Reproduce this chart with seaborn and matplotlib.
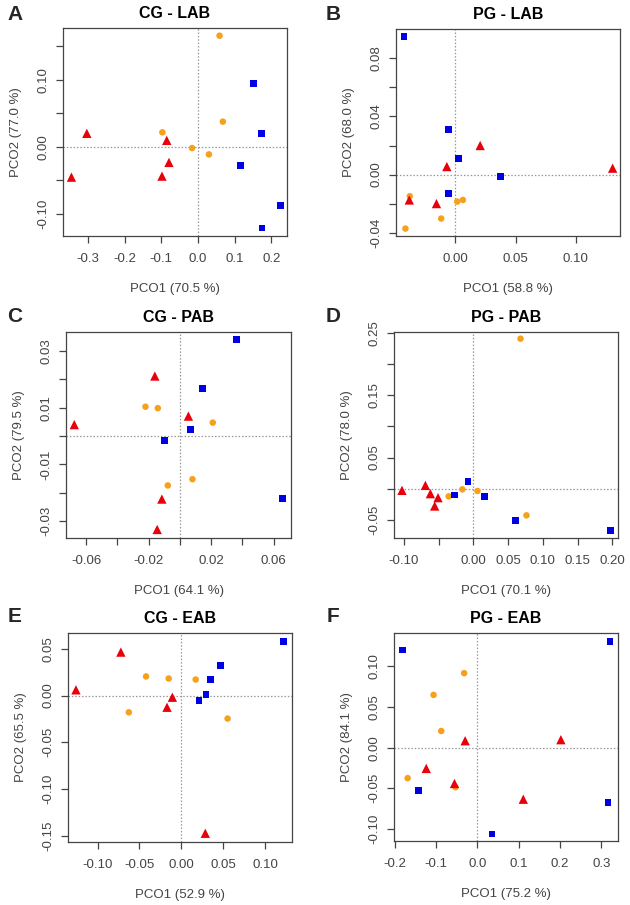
import numpy as np
import pandas as pd
import matplotlib
matplotlib.use("Agg")
import matplotlib.pyplot as plt
import seaborn as sns

sns.set_style("ticks")
plt.rcParams['font.family'] = ['Liberation Sans', 'DejaVu Sans']

# point coordinates (orange circles, red triangles, blue squares)
a_orange_x = [0.059, 0.068, -0.097, -0.016, 0.030]
a_orange_y = [0.166, 0.0375, 0.0215, -0.002, -0.0115]
a_red_x = [-0.303, -0.085, -0.079, -0.098, -0.345]
a_red_y = [0.020, 0.0095, -0.0235, -0.044, -0.0455]
a_blue_x = [0.152, 0.173, 0.117, 0.225, 0.175]
a_blue_y = [0.0945, 0.0195, -0.0275, -0.0875, -0.1215]

b_orange_x = [-0.0376, 0.0017, 0.0064, -0.0116, -0.0412]
b_orange_y = [-0.0149, -0.0186, -0.0175, -0.0303, -0.0372]
b_red_x = [0.0207, -0.0069, 0.1304, -0.038, -0.0155]
b_red_y = [0.020, 0.0055, 0.0044, -0.0175, -0.020]
b_blue_x = [-0.0423, -0.0055, 0.003, 0.0378, -0.0055]
b_blue_y = [0.0952, 0.0308, 0.011, -0.0011, -0.0129]

c_orange_x = [-0.022, -0.0141, 0.0211, 0.0081, -0.0077]
c_orange_y = [0.0103, 0.0098, 0.0047, -0.0152, -0.0174]
c_red_x = [-0.016, 0.0055, -0.0676, -0.0115, -0.0145]
c_red_y = [0.0211, 0.0070, 0.0040, -0.0222, -0.0329]
c_blue_x = [0.0362, 0.0143, 0.0070, -0.0098, 0.0659]
c_blue_y = [0.0340, 0.0168, 0.0023, -0.0015, -0.0219]

d_orange_x = [0.0678, -0.0159, 0.0058, -0.0356, 0.0764]
d_orange_y = [0.2406, -0.0011, -0.0037, -0.0123, -0.0428]
d_red_x = [-0.1029, -0.0692, -0.062, -0.051, -0.0558]
d_red_y = [-0.0027, 0.0053, -0.008, -0.0144, -0.0278]
d_blue_x = [-0.0077, -0.0274, 0.0159, 0.0606, 0.1976]
d_blue_y = [0.0118, -0.0102, -0.0123, -0.0513, -0.0668]

e_orange_x = [-0.0421, -0.0151, 0.0171, -0.0627, 0.0552]
e_orange_y = [0.0204, 0.0182, 0.0171, -0.0179, -0.0246]
e_red_x = [-0.0722, -0.1258, -0.0107, -0.0171, 0.0286]
e_red_y = [0.0464, 0.0061, -0.0018, -0.0125, -0.1471]
e_blue_x = [0.1222, 0.0464, 0.0349, 0.0294, 0.021]
e_blue_y = [0.0575, 0.0325, 0.0171, 0.0007, -0.0057]

f_orange_x = [-0.0322, -0.1061, -0.0876, -0.1688, -0.0531]
f_orange_y = [0.0918, 0.065, 0.0206, -0.0374, -0.0486]
f_red_x = [-0.0297, 0.2018, -0.1238, -0.0555, 0.1109]
f_red_y = [0.0086, 0.0099, -0.0255, -0.044, -0.0634]
f_blue_x = [-0.1817, 0.3207, -0.1431, 0.3159, 0.0354]
f_blue_y = [0.1202, 0.1305, -0.0523, -0.0671, -0.1062]

letters = ["A", "B", "C", "D", "E", "F"]
titles = ["CG - LAB", "PG - LAB", "CG - PAB", "PG - PAB", "CG - EAB", "PG - EAB"]
xlabels = ["PCO1 (70.5 %)", "PCO1 (58.8 %)", "PCO1 (64.1 %)",
           "PCO1 (70.1 %)", "PCO1 (52.9 %)", "PCO1 (75.2 %)"]
ylabels = ["PCO2 (77.0 %)", "PCO2 (68.0 %)", "PCO2 (79.5 %)",
           "PCO2 (78.0 %)", "PCO2 (65.5 %)", "PCO2 (84.1 %)"]

panels = [
    (a_orange_x, a_orange_y, a_red_x, a_red_y, a_blue_x, a_blue_y),
    (b_orange_x, b_orange_y, b_red_x, b_red_y, b_blue_x, b_blue_y),
    (c_orange_x, c_orange_y, c_red_x, c_red_y, c_blue_x, c_blue_y),
    (d_orange_x, d_orange_y, d_red_x, d_red_y, d_blue_x, d_blue_y),
    (e_orange_x, e_orange_y, e_red_x, e_red_y, e_blue_x, e_blue_y),
    (f_orange_x, f_orange_y, f_red_x, f_red_y, f_blue_x, f_blue_y),
]

# axis limits, ticks, and which ticks get a label
xlims = [(-0.368, 0.243), (-0.049, 0.1365), (-0.0729, 0.0712),
         (-0.1144, 0.2082), (-0.1353, 0.1321), (-0.2018, 0.340)]
ylims = [(-0.1335, 0.1775), (-0.0423, 0.1002), (-0.0359, 0.0366),
         (-0.0791, 0.2513), (-0.1564, 0.0668), (-0.1148, 0.1412)]
xticks = [np.arange(-3, 3) / 10, [0.0, 0.05, 0.10], np.arange(-6, 7, 2) / 100,
          np.arange(-10, 21, 5) / 100, np.arange(-10, 11, 5) / 100, np.arange(-2, 4) / 10]
xtick_fmt = ["%.1f", "%.2f", "%.2f", "%.2f", "%.2f", "%.1f"]
xtick_show = [None, None, [0, 2, 4, 6], [0, 2, 3, 4, 5, 6], None, None]
yticks = [np.arange(-10, 16, 5) / 100, np.arange(-4, 9, 2) / 100, np.arange(-3, 4) / 100,
          np.arange(-5, 26, 5) / 100, np.arange(-15, 6, 5) / 100, np.arange(-10, 11, 5) / 100]
ytick_show = [[0, 2, 4], [0, 2, 4, 6], [0, 2, 4, 6], [0, 2, 4, 6], None, None]

# axes boxes in pixels: left, right, top, bottom
boxes = [(63, 287, 28, 236), (396, 620, 29, 236),
         (66, 291, 332, 538), (394, 618, 332, 538),
         (68, 292, 633, 842), (394, 618, 633, 841)]

W, H = 630, 905
fig = plt.figure(figsize=(W / 100, H / 100), dpi=100)

palette = {"o": "#F5A11C", "r": "#E8000B", "b": "#0000E6"}
markers = {"o": "o", "r": "^", "b": "s"}
sizes = {"o": 22, "r": 45, "b": 24}
txt = "#444444"

for i, p in enumerate(panels):
    ox, oy, rx, ry, bx, by = p
    df = pd.DataFrame({
        "x": list(ox) + list(rx) + list(bx),
        "y": list(oy) + list(ry) + list(by),
        "g": ["o"] * len(ox) + ["r"] * len(rx) + ["b"] * len(bx),
    })
    l, r, t, b = boxes[i]
    ax = fig.add_axes([l / W, 1 - b / H, (r - l) / W, (b - t) / H])
    ax.axhline(0, color="#999999", lw=0.9, ls=(0, (1.2, 1.5)), zorder=1)
    ax.axvline(0, color="#999999", lw=0.9, ls=(0, (1.2, 1.5)), zorder=1)
    sns.scatterplot(data=df, x="x", y="y", hue="g", style="g", size="g",
                    palette=palette, markers=markers, sizes=sizes,
                    linewidth=0, legend=False, ax=ax, zorder=3)
    ax.set_xlim(xlims[i])
    ax.set_ylim(ylims[i])

    xt = xticks[i]
    ax.set_xticks(xt)
    xl = [xtick_fmt[i] % v for v in xt]
    if xtick_show[i] is not None:
        xl = [s if k in xtick_show[i] else "" for k, s in enumerate(xl)]
    ax.set_xticklabels(xl)

    yt = yticks[i]
    ax.set_yticks(yt)
    yl = ["%.2f" % v for v in yt]
    if ytick_show[i] is not None:
        yl = [s if k in ytick_show[i] else "" for k, s in enumerate(yl)]
    ax.set_yticklabels(yl, rotation=90, va="center")

    ax.tick_params(direction="out", length=5, width=0.9, color="#444444",
                   labelsize=9.5, labelcolor=txt)
    ax.tick_params(axis="x", pad=7)
    ax.tick_params(axis="y", pad=5)
    for s in ax.spines.values():
        s.set_color("#444444")
        s.set_linewidth(0.9)

    ax.set_xlabel(xlabels[i], fontsize=9.5, color=txt, labelpad=13)
    ax.set_ylabel(ylabels[i], fontsize=9.5, color=txt, labelpad=11)
    ax.set_title(titles[i], fontsize=11.5, fontweight="bold", color="black", pad=7)

    lx = 15 if i % 2 == 0 else 333
    ly = [15, 317, 617][i // 2]
    fig.text(lx / W, 1 - ly / H, letters[i], fontsize=15, fontweight="bold",
             ha="center", va="center")

fig.savefig("out.png", dpi=100)
